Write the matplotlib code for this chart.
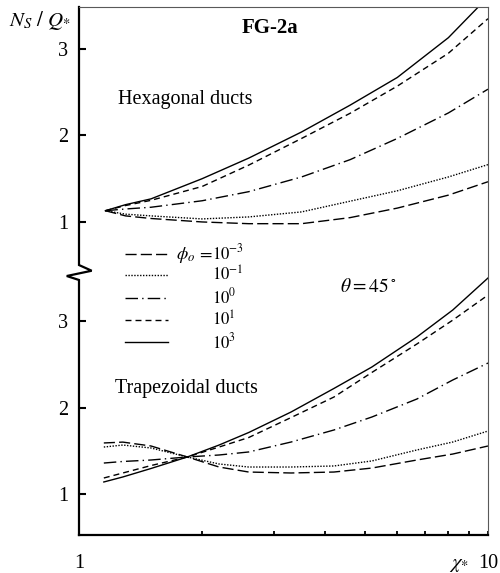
import numpy as np
import matplotlib.pyplot as plt
from matplotlib import transforms

plt.rcParams['font.family'] = ['Liberation Serif', 'DejaVu Serif']
plt.rcParams['mathtext.fontset'] = 'stix'

# hexagonal ducts (upper panel)
x_hex = [1.16, 1.3, 1.5, 2.0, 2.6, 3.5, 4.6, 6.0, 8.0, 10.0]
hex_m3 = [1.13, 1.07, 1.04, 1.00, 0.98, 0.98, 1.05, 1.16, 1.31, 1.465]
hex_m1 = [1.13, 1.09, 1.07, 1.035, 1.058, 1.116, 1.24, 1.36, 1.52, 1.663]
hex_0 = [1.13, 1.15, 1.17, 1.245, 1.35, 1.52, 1.72, 1.965, 2.26, 2.535]
hex_1 = [1.13, 1.19, 1.25, 1.41, 1.657, 1.965, 2.256, 2.57, 2.95, 3.35]
hex_3 = [1.13, 1.20, 1.267, 1.50, 1.738, 2.04, 2.35, 2.67, 3.13, 3.6]

# trapezoidal ducts (lower panel)
x_trap = [1.15, 1.28, 1.5, 1.84, 2.2, 2.6, 3.3, 4.2, 5.2, 6.7, 8.2, 10.0]
trap_m3 = [1.59, 1.60, 1.555, 1.428, 1.312, 1.254, 1.243, 1.254, 1.30, 1.393, 1.462, 1.555]
trap_m1 = [1.543, 1.566, 1.532, 1.428, 1.347, 1.312, 1.312, 1.324, 1.382, 1.509, 1.601, 1.728]
trap_0 = [1.358, 1.376, 1.393, 1.428, 1.451, 1.486, 1.601, 1.74, 1.89, 2.098, 2.318, 2.514]
trap_1 = [1.185, 1.243, 1.329, 1.428, 1.543, 1.653, 1.884, 2.121, 2.405, 2.734, 3.01, 3.30]
trap_3 = [1.139, 1.197, 1.295, 1.428, 1.566, 1.711, 1.948, 2.22, 2.468, 2.815, 3.127, 3.497]

phi_labels = [r'$10^{-3}$', r'$10^{-1}$', r'$10^{0}$', r'$10^{1}$', r'$10^{3}$']
styles = [(0, (8, 3)), (0, (1, 1.1)), (0, (9, 3, 1, 3)), (0, (4.3, 2.9)), '-']

# upper panel is drawn shifted up on the same axis
OFF = 3.145

fig = plt.figure(figsize=(5, 5.73), dpi=100)
ax = fig.add_axes([0.158, 0.0663, 0.818, 0.9215])

hex_series = [hex_m3, hex_m1, hex_0, hex_1, hex_3]
trap_series = [trap_m3, trap_m1, trap_0, trap_1, trap_3]
handles = []
for ys, ls in zip(hex_series, styles):
    h, = ax.plot(x_hex, np.array(ys) + OFF, color='black', lw=1.0, linestyle=ls)
    handles.append(h)
for ys, ls in zip(trap_series, styles):
    ax.plot(x_trap, ys, color='black', lw=1.0, linestyle=ls)

ax.set_xscale('log')
ax.set_xlim(1, 10)
ax.set_ylim(0.526, 6.63)

yt = [1, 2, 3, 1 + OFF, 2 + OFF, 3 + OFF]
ax.set_yticks(yt)
ax.set_yticklabels(['1', '2', '3', '1', '2', '3'])
ax.set_xticks([1, 10])
ax.set_xticklabels(['1', '10'])
ax.set_xticks([2, 3, 4, 5, 6, 7, 8, 9], minor=True)
ax.xaxis.set_minor_formatter(plt.NullFormatter())
ax.tick_params(axis='y', direction='in', length=5, width=1.5, labelsize=14.5, pad=8)
ax.tick_params(axis='x', which='both', direction='in', length=3, width=1.3,
               labelsize=14.5, pad=14)
ax.tick_params(axis='y', which='minor', left=False)

for s in ['top', 'right']:
    ax.spines[s].set_linewidth(0.8)
    ax.spines[s].set_color('0.35')
ax.spines['bottom'].set_linewidth(1.6)
ax.spines['left'].set_visible(False)

# left axis with a break between the two panels
tr = transforms.blended_transform_factory(ax.transAxes, ax.transData)
ax.plot([0, 0, 0.031, -0.030, 0, 0], [6.63, 3.647, 3.581, 3.520, 3.474, 0.526],
        color='black', lw=1.6, transform=tr, clip_on=False, solid_joinstyle='miter')

ax.text(-0.095, 0.975, r'$N_S\ /\ Q_{*}$', transform=ax.transAxes,
        ha='center', va='center', fontsize=15)
ax.text(0.93, -0.055, r'$\chi_{*}$', transform=ax.transAxes,
        ha='center', va='center', fontsize=15)
ax.text(0.467, 0.96, 'FG-2a', transform=ax.transAxes, ha='center', va='center',
        fontsize=15, fontweight='bold')
ax.text(0.259, 0.824, 'Hexagonal ducts', transform=ax.transAxes,
        ha='center', va='center', fontsize=14.5)
ax.text(0.263, 0.277, 'Trapezoidal ducts', transform=ax.transAxes,
        ha='center', va='center', fontsize=14.5)
ax.text(0.707, 0.47, r'$\theta = 45\,^{\circ}$', transform=ax.transAxes,
        ha='center', va='center', fontsize=14)

leg = ax.legend(handles, phi_labels, loc='upper left', bbox_to_anchor=(0.1125, 0.552),
                frameon=False, fontsize=12, handlelength=2.6, handletextpad=2.6,
                labelspacing=0.15, borderpad=0, borderaxespad=0)
ax.text(0.236, 0.53, r'$\phi_o\,=$', transform=ax.transAxes,
        ha='left', va='center', fontsize=13)

fig.savefig('out.png', dpi=100)
